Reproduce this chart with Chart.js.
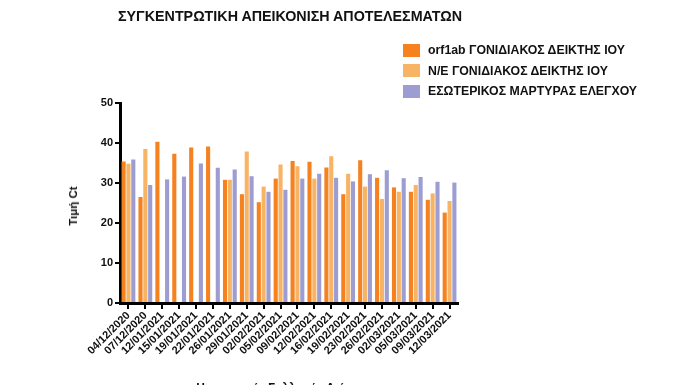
<!DOCTYPE html>
<html lang="el">
<head>
  <meta charset="UTF-8" />
  <title>Συγκεντρωτική απεικόνιση αποτελεσμάτων</title>
  <script src="https://cdn.jsdelivr.net/npm/chart.js"></script>
  <style>
    body {
      margin: 0;
      background: white;
      font-family: Arial, "Liberation Sans", sans-serif;
      color: #111;
    }
    .wrap {
      position: relative;
      width: 696px;
      height: 385px;
      overflow: hidden;
    }
    canvas { position: absolute; left: 0; top: 0; }
    .title {
      position: absolute;
      left: 0; width: 580px; top: 8px;
      text-align: center;
      font-weight: bold;
      font-size: 14.3px;
    }
    .legend {
      position: absolute;
      left: 403px; top: 40px;
      font-weight: bold;
      font-size: 12.3px;
    }
    .legend div { height: 20.5px; display: flex; align-items: center; }
    .legend span.box { width: 17px; height: 13px; margin-right: 8px; display: inline-block; }
    .ytitle {
      position: absolute;
      left: 73px; top: 206px;
      transform: translate(-50%, -50%) rotate(-90deg);
      font-weight: bold;
      font-size: 11.5px;
      white-space: nowrap;
    }
    .xtitle {
      position: absolute;
      left: 0; width: 580px; top: 381px;
      text-align: center;
      font-weight: bold;
      font-size: 12px;
    }
  </style>
</head>
<body>
  <div class="wrap">
    <canvas id="ctChart" width="696" height="385"></canvas>
    <div class="title">ΣΥΓΚΕΝΤΡΩΤΙΚΗ ΑΠΕΙΚΟΝΙΣΗ ΑΠΟΤΕΛΕΣΜΑΤΩΝ</div>
    <div class="legend" id="legend"></div>
    <div class="ytitle">Τιμή Ct</div>
    <div class="xtitle">Ημερομηνία Συλλογής Δείγματος</div>
  </div>

  <script>
    const dates = ['04/12/2020', '07/12/2020', '12/01/2021', '15/01/2021', '19/01/2021',
      '22/01/2021', '26/01/2021', '29/01/2021', '02/02/2021', '05/02/2021',
      '09/02/2021', '12/02/2021', '16/02/2021', '19/02/2021', '23/02/2021',
      '26/02/2021', '02/03/2021', '05/03/2021', '09/03/2021', '12/03/2021'];

    const orf1ab = [35.4, 26.5, 40.3, 37.3, 38.9, 39.1, 30.8, 27.2, 25.2, 31.1,
      35.5, 35.3, 33.9, 27.2, 35.7, 31.3, 28.9, 27.8, 25.8, 22.6];
    const neGene = [34.8, 38.5, null, null, null, null, 30.8, 37.9, 29.1, 34.6,
      34.2, 31.1, 36.7, 32.3, 29.1, 26.0, 27.8, 29.5, 27.4, 25.5];
    const internalControl = [35.9, 29.5, 30.9, 31.6, 34.9, 33.8, 33.4, 31.7, 27.8, 28.3,
      31.1, 32.3, 31.3, 30.4, 32.2, 33.2, 31.2, 31.5, 30.3, 30.1];

    const seriesNames = ['orf1ab ΓΟΝΙΔΙΑΚΟΣ ΔΕΙΚΤΗΣ ΙΟΥ', 'N/E ΓΟΝΙΔΙΑΚΟΣ ΔΕΙΚΤΗΣ ΙΟΥ', 'ΕΣΩΤΕΡΙΚΟΣ ΜΑΡΤΥΡΑΣ ΕΛΕΓΧΟΥ'];
    const seriesColors = ['#f5821f', '#f8b465', '#9d9dd1'];
    const yTicks = [0, 10, 20, 30, 40, 50];

    // legend as plain html
    const legendEl = document.getElementById('legend');
    seriesNames.forEach((name, i) => {
      const row = document.createElement('div');
      row.innerHTML = '<span class="box" style="background:' + seriesColors[i] + '"></span>' + name;
      legendEl.appendChild(row);
    });

    new Chart(document.getElementById('ctChart'), {
      type: 'bar',
      data: {
        labels: dates,
        datasets: [orf1ab, neGene, internalControl].map((d, i) => ({
          label: seriesNames[i],
          data: d,
          backgroundColor: seriesColors[i],
          categoryPercentage: 0.86,
          barPercentage: 0.85
        }))
      },
      options: {
        responsive: false,
        animation: false,
        layout: { padding: { left: 0, right: 238, top: 103, bottom: 0 } },
        plugins: {
          legend: { display: false },
          tooltip: { enabled: false }
        },
        scales: {
          x: {
            afterFit: s => { s.height = 82; },
            grid: { offset: false, drawOnChartArea: false, drawTicks: true, tickLength: 6, color: '#000', lineWidth: 2 },
            border: { color: '#000', width: 3 },
            ticks: { color: '#111', font: { family: 'Arial', weight: 'bold', size: 11 }, minRotation: 45, maxRotation: 45, padding: 0, autoSkip: false }
          },
          y: {
            min: 0,
            max: 50,
            afterFit: s => { s.width = 120; },
            afterBuildTicks: s => { s.ticks = yTicks.map(v => ({ value: v })); },
            grid: { drawOnChartArea: false, drawTicks: true, tickLength: 5, color: '#000', lineWidth: 2 },
            border: { color: '#000', width: 3 },
            ticks: { color: '#111', font: { family: 'Arial', weight: 'bold', size: 11 }, padding: 2 }
          }
        }
      }
    });
  </script>
</body>
</html>
